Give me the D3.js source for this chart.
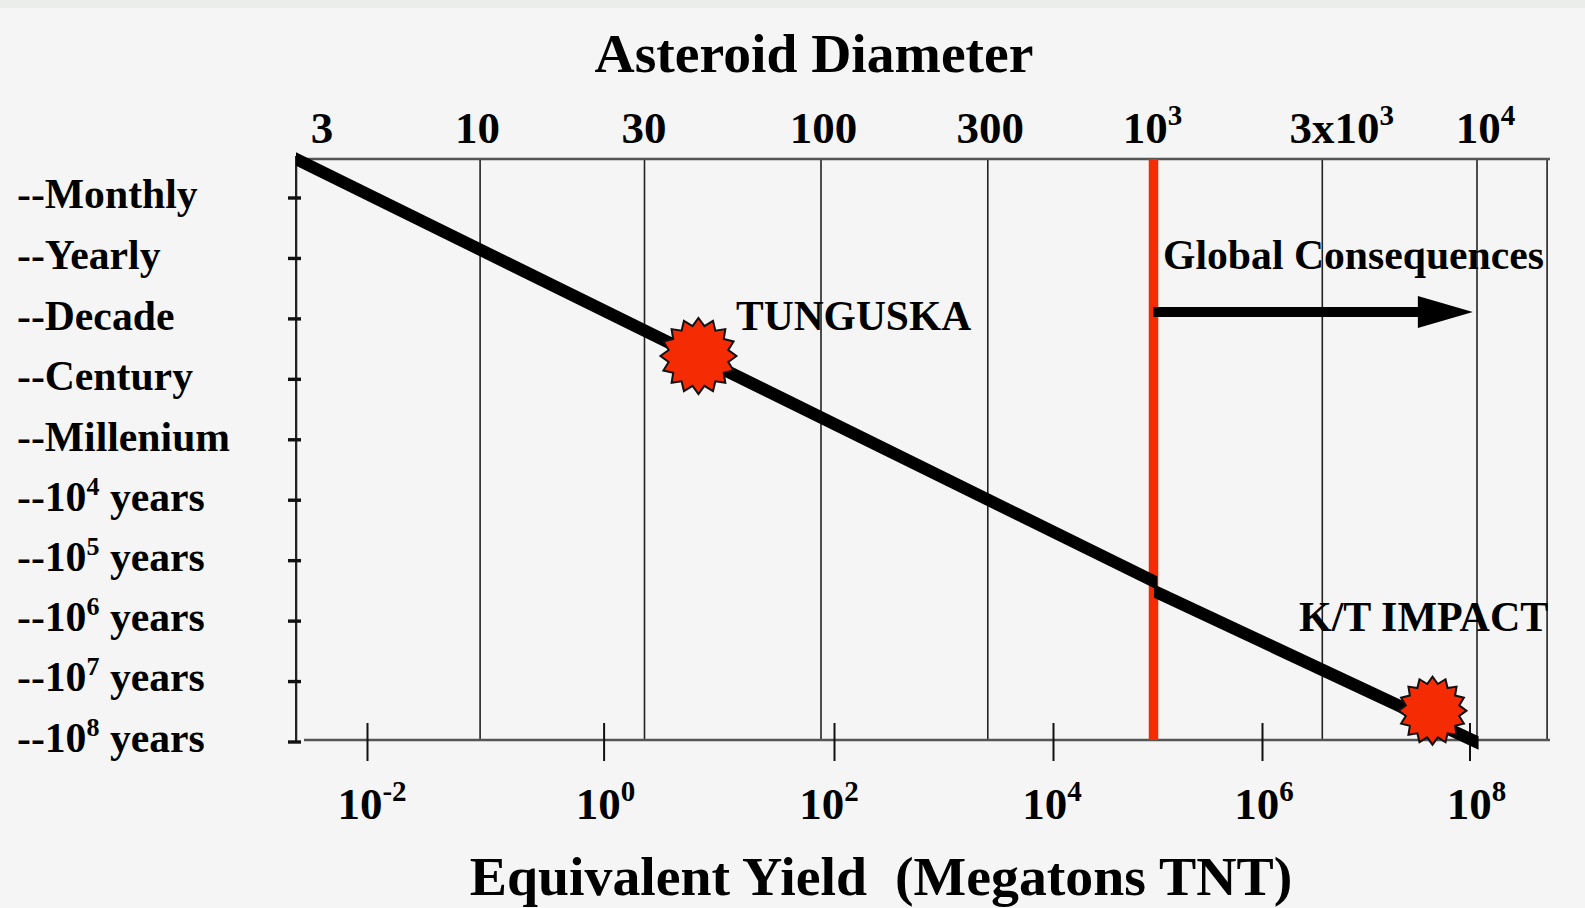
<!DOCTYPE html>
<html>
<head>
<meta charset="utf-8">
<script src="https://cdn.jsdelivr.net/npm/d3@7"></script>
<style>
body { margin: 0; background: #f5f5f5; }
svg { display: block; }
text { font-family: "Liberation Serif", serif; font-weight: bold; fill: #000; white-space: pre; }
</style>
</head>
<body>
<div id="chart"></div>
<script>
var w = 1585;
var h = 908;

// top axis: asteroid diameter (last value is the unlabelled right border)
var diameterTicks = [3, 10, 30, 100, 300, 1000, 3000, 10000, 16500];
var diameterLabels = [["3"], ["10"], ["30"], ["100"], ["300"], ["10", "3"], ["3x10", "3"], ["10", "4"]];

// bottom axis: yield in megatons
var yieldTicks = [1e-2, 1e0, 1e2, 1e4, 1e6, 1e8];
var yieldLabels = [["10", "-2"], ["10", "0"], ["10", "2"], ["10", "4"], ["10", "6"], ["10", "8"]];

// left axis: recurrence, log10 of years
var recurrenceTicks = [-1, 0, 1, 2, 3, 4, 5, 6, 7, 8];
var recurrenceLabels = [["--Monthly"], ["--Yearly"], ["--Decade"], ["--Century"], ["--Millenium"],
	["--10", "4", " years"], ["--10", "5", " years"], ["--10", "6", " years"], ["--10", "7", " years"], ["--10", "8", " years"]];

// the thick line, in two pieces with a small step at 1 km
var upperDiameter = [3, 1025];
var upperRecurrence = [-1.637, 5.378];
var lowerDiameter = [1003, 10150];
var lowerRecurrence = [5.511, 8.025];

var eventNames = ["TUNGUSKA", "K/T IMPACT"];
var eventDiameter = [43.5, 7100];
var eventRecurrence = [1.622, 7.49];

var globalDiameter = 1000;
var arrowEndDiameter = 9720;
var arrowRecurrence = 0.894;

// layout, pixels
var plotTop = 159, plotBottom = 740;
var diameterRange = [296, 479.6, 644, 820.5, 987.3, 1153.5, 1321.8, 1476.5, 1546.6];
var yieldRange = [367, 603.6, 834, 1053, 1262, 1469.5];
var diameterNudge = [26, -2, 0, 3, 3, -1, 20, 9];
var yieldNudge = [5, 2, -5, -1, 2, 7];
var recurrenceNudge = [10, 11, 12, 11, 12, 11, 11, 10, 10, 10];
var red = "#f42b03";

var x = d3.scaleLog().domain(diameterTicks).range(diameterRange);
var xYield = d3.scaleLog().domain(yieldTicks).range(yieldRange);
var y = d3.scaleLinear().domain([-1, 8]).range([197.5, 741.5]);

var svg = d3.select("#chart")
			.append("svg")
			.attr("width", w)
			.attr("height", h);

svg.append("rect").attr("width", w).attr("height", h).attr("fill", "#f5f5f5");
svg.append("rect").attr("width", w).attr("height", 8).attr("fill", "#ebedeb");

// base text plus optional superscript and trailing text
function powerText(sel, parts, supSize, supShift) {
	sel.text(null);
	sel.append("tspan").text(parts[0]);
	if (parts.length > 1) {
		sel.append("tspan").attr("font-size", supSize).attr("dy", -supShift).text(parts[1]);
	}
	if (parts.length > 2) {
		sel.append("tspan").attr("dy", supShift).text(parts[2]);
	}
}

//vertical grid, one per diameter
var gridAxis = d3.axisBottom(x)
				.tickValues(diameterTicks)
				.tickSize(plotBottom - plotTop)
				.tickFormat("");

var grid = svg.append("g")
				.attr("transform", "translate(0," + plotTop + ")")
				.call(gridAxis);
grid.select(".domain").remove();
grid.selectAll("line").attr("stroke", "#222").attr("stroke-width", 1.6);

//left axis line
svg.append("line")
	.attr("x1", diameterRange[0]).attr("x2", diameterRange[0])
	.attr("y1", plotTop - 3).attr("y2", y(8))
	.attr("stroke", "#222").attr("stroke-width", 2);

//frame lines top and bottom
svg.append("line")
	.attr("x1", diameterRange[0]).attr("x2", 1550)
	.attr("y1", plotTop).attr("y2", plotTop)
	.attr("stroke", "#555").attr("stroke-width", 2.4);
svg.append("line")
	.attr("x1", 304).attr("x2", 1550)
	.attr("y1", plotBottom).attr("y2", plotBottom)
	.attr("stroke", "#555").attr("stroke-width", 2.4);

//yield ticks crossing the bottom line
var yieldAxis = d3.axisBottom(xYield)
				.tickValues(yieldTicks)
				.tickSize(38)
				.tickFormat("");
var yieldG = svg.append("g")
				.attr("transform", "translate(0,723)")
				.call(yieldAxis);
yieldG.select(".domain").remove();
yieldG.selectAll("line").attr("stroke", "#111").attr("stroke-width", 2);

//recurrence ticks
var leftAxis = d3.axisLeft(y)
				.tickValues(recurrenceTicks)
				.tickSize(13)
				.tickFormat("");
var leftG = svg.append("g")
				.attr("transform", "translate(301,0)")
				.call(leftAxis);
leftG.select(".domain").remove();
leftG.selectAll("line").attr("stroke", "#111").attr("stroke-width", 3.4);

//1 km limit
svg.append("line")
	.attr("x1", x(globalDiameter)).attr("x2", x(globalDiameter))
	.attr("y1", plotTop).attr("y2", plotBottom)
	.attr("stroke", red).attr("stroke-width", 9.5);

//thick line pieces, cut vertically at the ends
var band = d3.area()
			.x(function(d) { return x(d[0]); })
			.y0(function(d) { return y(d[1]) - 6.8; })
			.y1(function(d) { return y(d[1]) + 6.8; });

[[upperDiameter, upperRecurrence], [lowerDiameter, lowerRecurrence]].forEach(function(seg) {
	svg.append("path")
		.attr("d", band(d3.zip(seg[0], seg[1])))
		.attr("fill", "#000");
});

//arrow
var arrowX0 = x(globalDiameter);
var arrowX1 = x(arrowEndDiameter);
var arrowY = y(arrowRecurrence);
svg.append("path")
	.attr("d", d3.line()([
		[arrowX0, arrowY - 5], [arrowX1 - 55, arrowY - 5], [arrowX1 - 55, arrowY - 16],
		[arrowX1, arrowY], [arrowX1 - 55, arrowY + 16], [arrowX1 - 55, arrowY + 5], [arrowX0, arrowY + 5]
	]) + "Z")
	.attr("fill", "#000");

//impact stars
var starRadius = [38, 34];
eventNames.forEach(function(name, i) {
	var R = starRadius[i];
	var points = d3.range(32).map(function(k) {
		return [k * Math.PI / 16, k % 2 === 0 ? R : R * 0.8];
	});
	svg.append("path")
		.attr("transform", "translate(" + x(eventDiameter[i]) + "," + y(eventRecurrence[i]) + ")")
		.attr("d", d3.lineRadial()(points) + "Z")
		.attr("fill", red)
		.attr("stroke", "#111")
		.attr("stroke-width", 2);
});

//top tick labels
svg.selectAll("text.diameter")
	.data(diameterLabels)
	.enter()
	.append("text")
	.attr("class", "diameter")
	.attr("x", function(d, i) { return x(diameterTicks[i]) + diameterNudge[i]; })
	.attr("y", 142.5)
	.attr("text-anchor", "middle")
	.attr("font-size", 45)
	.each(function(d) { powerText(d3.select(this), d, 29, 18); });

//bottom tick labels
svg.selectAll("text.yield")
	.data(yieldLabels)
	.enter()
	.append("text")
	.attr("class", "yield")
	.attr("x", function(d, i) { return xYield(yieldTicks[i]) + yieldNudge[i]; })
	.attr("y", 819)
	.attr("text-anchor", "middle")
	.attr("font-size", 45)
	.each(function(d) { powerText(d3.select(this), d, 29, 18); });

//left labels
svg.selectAll("text.recurrence")
	.data(recurrenceLabels)
	.enter()
	.append("text")
	.attr("class", "recurrence")
	.attr("x", 17)
	.attr("y", function(d, i) { return y(recurrenceTicks[i]) + recurrenceNudge[i]; })
	.attr("font-size", 41.7)
	.each(function(d) { powerText(d3.select(this), d, 26, 16); });

//titles
svg.append("text")
	.attr("x", 814).attr("y", 71.5)
	.attr("text-anchor", "middle")
	.attr("font-size", 55.6)
	.text("Asteroid Diameter");
svg.append("text")
	.attr("x", 881).attr("y", 895)
	.attr("text-anchor", "middle")
	.attr("font-size", 55.8)
	.text("Equivalent Yield  (Megatons TNT)");

//annotations
svg.append("text")
	.attr("x", 1163).attr("y", 269)
	.attr("font-size", 41.7)
	.text("Global Consequences");
svg.append("text")
	.attr("x", 736).attr("y", 330)
	.attr("font-size", 41.5)
	.text(eventNames[0]);
svg.append("text")
	.attr("x", 1299).attr("y", 631)
	.attr("font-size", 42)
	.text(eventNames[1]);
</script>
</body>
</html>
